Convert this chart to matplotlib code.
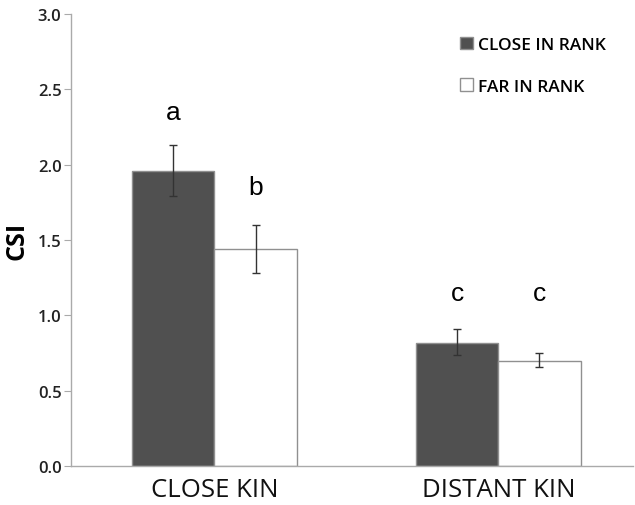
import numpy as np
import matplotlib.pyplot as plt

groups = ["CLOSE KIN", "DISTANT KIN"]
series = ["CLOSE IN RANK", "FAR IN RANK"]
close_rank = [1.96, 0.82]
close_lo = [1.79, 0.74]
close_hi = [2.13, 0.91]
far_rank = [1.44, 0.70]
far_lo = [1.28, 0.66]
far_hi = [1.60, 0.75]
close_letters = ["a", "c"]
far_letters = ["b", "c"]
letter_y_close = [2.35, 1.15]
letter_y_far = [1.85, 1.15]

fig = plt.figure(figsize=(6.35, 5.06), dpi=100)
ax = fig.add_axes([0.112, 0.077, 0.885, 0.893])

x = np.arange(len(groups))
w = 0.29
edge = "#909090"

ax.bar(x - w / 2, close_rank, w, color="#505050", edgecolor=edge, linewidth=1.0, label=series[0])
ax.bar(x + w / 2, far_rank, w, color="white", edgecolor=edge, linewidth=1.0, label=series[1])

c_err = [np.array(close_rank) - np.array(close_lo), np.array(close_hi) - np.array(close_rank)]
f_err = [np.array(far_rank) - np.array(far_lo), np.array(far_hi) - np.array(far_rank)]
ax.errorbar(x - w / 2, close_rank, yerr=c_err, fmt="none", ecolor="#333333", elinewidth=1.0, capsize=3, capthick=1.0)
ax.errorbar(x + w / 2, far_rank, yerr=f_err, fmt="none", ecolor="#333333", elinewidth=1.0, capsize=3, capthick=1.0)

for i in range(len(groups)):
    ax.text(x[i] - w / 2, letter_y_close[i], close_letters[i], ha="center", va="center",
            fontsize=19, family="Liberation Sans")
    ax.text(x[i] + w / 2, letter_y_far[i], far_letters[i], ha="center", va="center",
            fontsize=19, family="Liberation Sans")

ax.set_xlim(-0.505, 1.475)
ax.set_ylim(0, 3.0)
ax.set_yticks(np.arange(0, 3.01, 0.5))
ax.set_yticklabels(["%.1f" % v for v in np.arange(0, 3.01, 0.5)], family="Open Sans",
                   fontsize=12, fontweight=600, color="#222222")
ax.set_xticks(x)
ax.set_xticklabels(groups, family="Open Sans", fontsize=18.5, color="#111111")
ax.tick_params(axis="x", length=0, pad=8)
ax.tick_params(axis="y", length=5, color="#aaaaaa", pad=2)
ax.set_ylabel("CSI", family="Open Sans", fontsize=18, fontweight="bold", labelpad=6)

for s in ["top", "right"]:
    ax.spines[s].set_visible(False)
for s in ["left", "bottom"]:
    ax.spines[s].set_color("#aaaaaa")
    ax.spines[s].set_linewidth(1.0)

leg = ax.legend(loc="upper right", bbox_to_anchor=(0.98, 0.985), frameon=False,
                prop={"family": "Open Sans", "size": 12.5, "weight": 600}, handlelength=0.75,
                handleheight=0.75, handletextpad=0.3, labelspacing=1.45)

fig.savefig("out.png", dpi=100)
